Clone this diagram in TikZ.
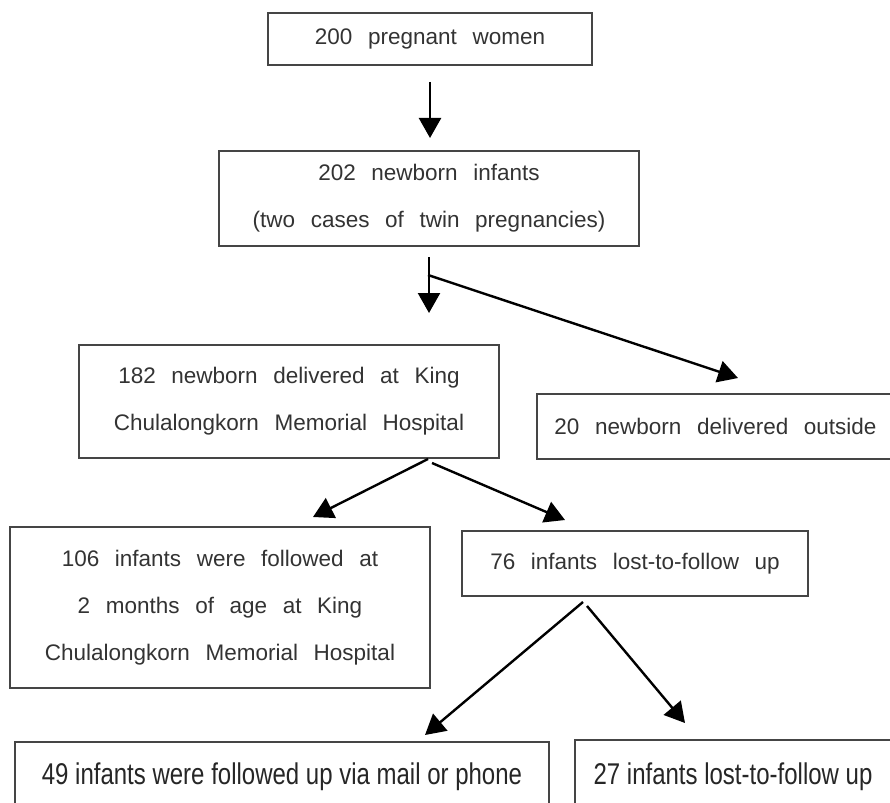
\documentclass[tikz,border=0pt]{standalone}
\usepackage{fontspec}
\setmainfont[WordSpace=2.5]{Liberation Sans}
\newfontfamily\narrowfont[FakeStretch=0.8]{Liberation Sans}
\usetikzlibrary{arrows.meta}
\definecolor{boxgray}{HTML}{454545}
\definecolor{txtgray}{HTML}{333333}
\begin{document}
\begin{tikzpicture}[x=1pt,y=-1pt,
  box/.style={draw=boxgray, line width=1.4pt, rectangle, inner sep=0pt,
    align=center, text=txtgray, font=\fontsize{22.5}{47}\selectfont},
  lowbox/.style={box, text=black!85, font=\narrowfont\fontsize{30}{36}\selectfont},
  arr/.style={-{Triangle[length=20pt,width=22pt]}, line width=2.4pt, black}]
\useasboundingbox (0,0) rectangle (890,802);
\clip (0,0) rectangle (890,802);
\fill[white] (0,0) rectangle (890,802);

\node[box, minimum width=324pt, minimum height=52pt] (b1) at (430,39) {200 pregnant women};
\node[box, minimum width=420pt, minimum height=95pt] (b2) at (429,198.5)
  {202 newborn infants\\(two cases of twin pregnancies)};
\node[box, minimum width=420pt, minimum height=113pt] (b3) at (289,401.5)
  {182 newborn delivered at King\\Chulalongkorn Memorial Hospital};
\node[box, minimum width=357pt, minimum height=65pt] (b4) at (715.5,426.5)
  {20 newborn delivered outside};
\node[box, minimum width=420pt, minimum height=161pt] (b5) at (220,607.5)
  {106 infants were followed at\\2 months of age at King\\Chulalongkorn Memorial Hospital};
\node[box, minimum width=346pt, minimum height=65pt] (b6) at (635,563.5)
  {76 infants lost-to-follow up};
\node[lowbox, minimum width=534pt, minimum height=70pt] (b7) at (282,777)
  {49 infants were followed up via mail or phone};
\node[lowbox, minimum width=316pt, minimum height=74pt] (b8) at (733,777)
  {27 infants lost-to-follow up};

\coordinate (a1s) at (430,82);  \coordinate (a1e) at (430,138);
\coordinate (a2s) at (429,257); \coordinate (a2e) at (429,313);
\coordinate (a3s) at (428,275); \coordinate (a3e) at (738,378);
\coordinate (a4s) at (428,459); \coordinate (a4e) at (313,517);
\coordinate (a5s) at (432,463); \coordinate (a5e) at (565,520);
\coordinate (a6s) at (583,602); \coordinate (a6e) at (425,735);
\coordinate (a7s) at (587,606); \coordinate (a7e) at (685,723);

\draw[arr] (a1s) -- (a1e);
\draw[arr] (a2s) -- (a2e);
\draw[arr] (a3s) -- (a3e);
\draw[arr] (a4s) -- (a4e);
\draw[arr] (a5s) -- (a5e);
\draw[arr] (a6s) -- (a6e);
\draw[arr] (a7s) -- (a7e);
\end{tikzpicture}
\end{document}
